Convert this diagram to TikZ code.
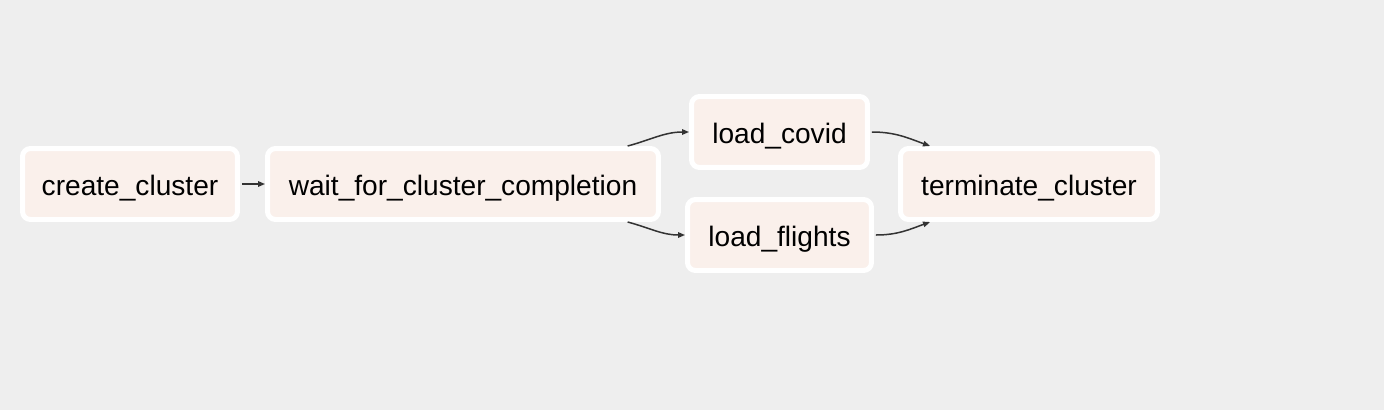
\documentclass[tikz,border=0pt]{standalone}
\usepackage{fontspec}
\setmainfont{Liberation Sans}
\usetikzlibrary{arrows.meta}
\definecolor{canvas}{HTML}{EEEEEE}
\definecolor{taskfill}{HTML}{FAF0EB}
\definecolor{edgegray}{HTML}{333333}
\begin{document}
\begin{tikzpicture}[x=0.02cm, y=-0.02cm,
    task/.style={draw=white, line width=0.1cm, fill=taskfill, rounded corners=0.16cm,
      minimum height=1.42cm, inner sep=0pt, text height=0.55cm, text depth=0.11cm,
      font=\fontsize{16}{19}\selectfont},
    flow/.style={draw=edgegray, line width=0.03cm, -{Triangle[length=0.14cm,width=0.11cm]}}]
  \fill[canvas] (0,0) rectangle (1384,410);
  \node[task, minimum width=4.3cm] (create) at (130,184) {create\_cluster};
  \node[task, minimum width=7.82cm] (wait) at (463,184) {wait\_for\_cluster\_completion};
  \node[task, minimum width=3.52cm] (covid) at (779.5,132) {load\_covid};
  \node[task, minimum width=3.68cm] (flights) at (779.5,235) {load\_flights};
  \node[task, minimum width=5.14cm] (terminate) at (1029,184) {terminate\_cluster};
  \draw[flow] ([xshift=0.04cm]create.east) -- (wait.west);
  \draw[flow] (wait.13) to[out=15, in=180] (covid.west);
  \draw[flow] (wait.-13) to[out=-15, in=180] (flights.west);
  \draw[flow] ([xshift=0.04cm]covid.east) to[out=0, in=160] (terminate.159);
  \draw[flow] ([xshift=0.04cm]flights.east) to[out=0, in=200] (terminate.201);
\end{tikzpicture}
\end{document}
